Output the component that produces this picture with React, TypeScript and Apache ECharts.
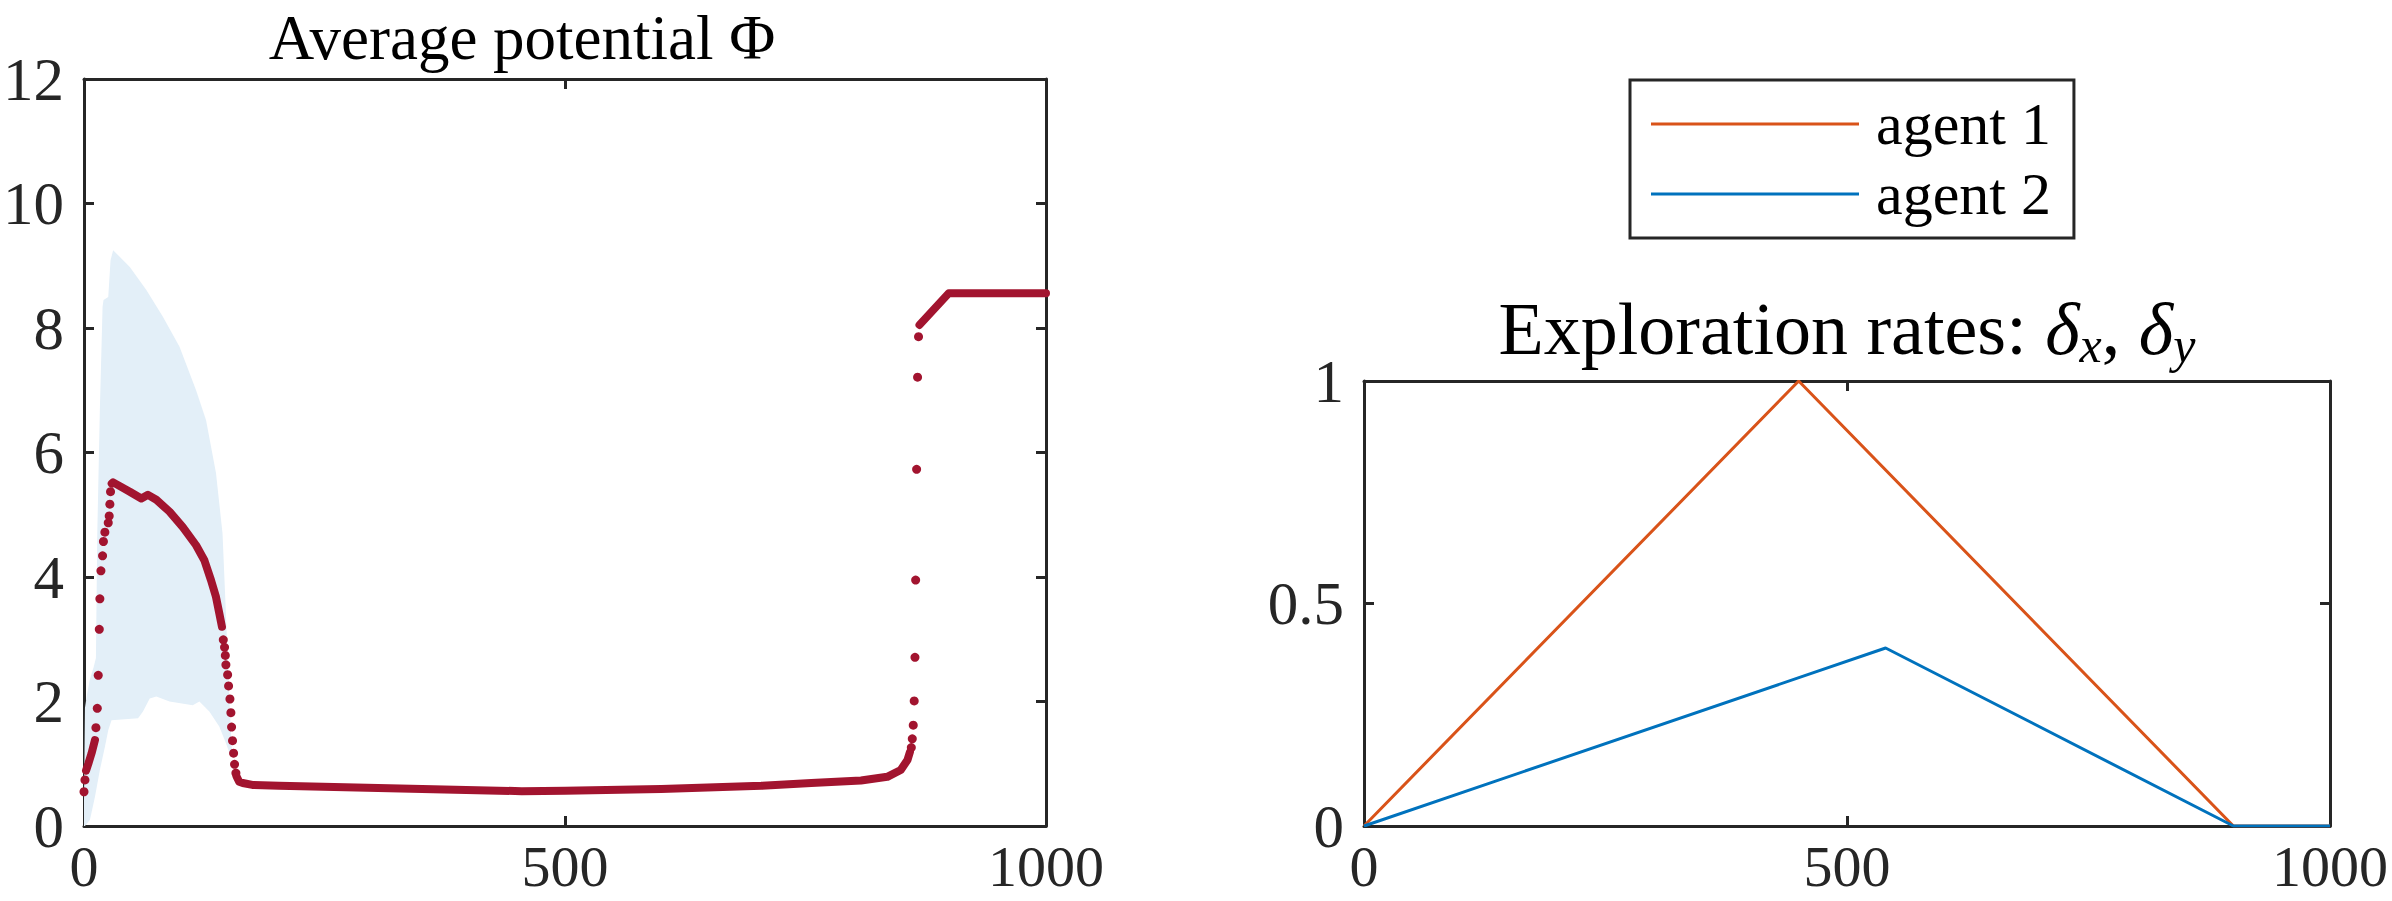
import React, { useEffect, useRef } from "react";
import * as echarts from "echarts";

// ---------- Left panel: average potential ----------
const xTicksLeft = [0, 500, 1000];
const yTicksLeft = [0, 2, 4, 6, 8, 10, 12];

// shaded band (upper / lower envelope)
const bandUpper: [number, number][] = [
  [0, 0.4], [1, 1.9], [3, 2.1], [6, 2.35], [10, 2.55], [12.4, 2.7], [13.8, 4.7],
  [16.5, 6.7], [19.3, 8.34], [20.3, 8.45], [25.2, 8.5], [27.6, 9.09], [30.3, 9.25],
  [47.6, 8.98], [64.8, 8.61], [82, 8.18], [99.3, 7.7], [116.5, 7.0], [126.9, 6.52],
  [137.2, 5.67], [144, 4.7], [147.5, 3.42], [151, 2.07], [154, 1.15],
];
const bandLower: [number, number][] = [
  [0, 0], [1, 0], [6.2, 0.1], [11.4, 0.47], [16.5, 0.9], [21.7, 1.27], [25.2, 1.54],
  [28.6, 1.7], [56.2, 1.73], [61.3, 1.84], [68.3, 2.05], [75.2, 2.08], [88.9, 2.0],
  [113, 1.94], [120, 2.0], [130.3, 1.84], [140.6, 1.6], [147.6, 1.33], [152.7, 1.11],
];

// dense parts of the potential curve (drawn as thick line pieces)
const potSegA: [number, number][] = [[2.1, 0.89], [4.5, 1.0], [7.9, 1.17], [11.4, 1.38]];
const potSegC: [number, number][] = [
  [28.8, 5.5], [30.3, 5.52], [47.6, 5.37], [59.6, 5.26], [66.5, 5.32], [75.2, 5.24],
  [88.9, 5.05], [102.7, 4.8], [116.5, 4.51], [125.1, 4.27], [132, 3.95], [137.2, 3.68],
  [140.6, 3.42], [143.4, 3.2],
];
const potSegD: [number, number][] = [
  [158.5, 0.8], [161.3, 0.71], [165, 0.69], [175, 0.66], [202.7, 0.645], [363, 0.59],
  [455, 0.56], [500, 0.565], [600, 0.595], [704, 0.645], [756, 0.69], [807.7, 0.73],
  [835, 0.79], [849, 0.9], [856, 1.06], [858.6, 1.19],
];
const potSegE: [number, number][] = [[868.5, 8.05], [899, 8.56], [1000, 8.56]];

// isolated points of the potential curve (fast transitions)
const potDots: [number, number][] = [
  [0, 0.55], [1, 0.74], [12.4, 1.58], [13.8, 1.89], [14.8, 2.42], [15.9, 3.16],
  [16.5, 3.65], [17.6, 4.1], [19.3, 4.34], [20.2, 4.57], [21.7, 4.72], [25.2, 4.87],
  [26.2, 4.98], [26.9, 5.17], [27.6, 5.37],
  [144.8, 2.99], [146.1, 2.87], [146.9, 2.74], [147.5, 2.59], [149.3, 2.43],
  [150.3, 2.25], [151.7, 2.04], [152.7, 1.82], [153.4, 1.59], [154.4, 1.37],
  [155.5, 1.17], [156.5, 0.99], [157.9, 0.85],
  [860, 1.26], [861, 1.4], [862, 1.62], [863, 2.01], [863.8, 2.71], [864.5, 3.95],
  [865.5, 5.73], [866.5, 7.21], [867.5, 7.86],
];

// ---------- Right panel: exploration rates ----------
const agent1X = [0, 450, 900, 1000];
const agent1Y = [0, 1, 0, 0];
const agent2X = [0, 540, 900, 1000];
const agent2Y = [0, 0.4, 0, 0];
const xTicksRight = [0, 500, 1000];
const yTicksRight = [0, 0.5, 1];

const FONT = '"Liberation Serif", "Times New Roman", serif';
const AX = "#262626";
const RED = "#A2142F";
const ORANGE = "#D95319";
const BLUE = "#0072BD";
const BAND = "#E3EFF8";

function joinSegments(...segs: [number, number][][]) {
  const out: any[] = [];
  segs.forEach((s, i) => {
    if (i > 0) out.push([null, null]);
    s.forEach((p) => out.push(p));
  });
  return out;
}

function boxAxes(gridIndex: number, kind: "x" | "y", ticks: number[]) {
  const common = {
    gridIndex,
    type: "value",
    min: ticks[0],
    max: ticks[ticks.length - 1],
    interval: ticks[1] - ticks[0],
    splitLine: { show: false },
    axisLine: { show: true, onZero: false, lineStyle: { color: AX, width: 3 } },
    axisTick: { show: true, inside: true, length: 10, lineStyle: { color: AX, width: 3 } },
  };
  const label = {
    show: true,
    fontSize: kind === "x" ? 58 : 61,
    fontFamily: FONT,
    color: AX,
    lineHeight: 44,
    margin: kind === "x" ? 18 : 20,
    formatter: (v: number) => String(v),
  };
  return [
    { ...common, position: kind === "x" ? "bottom" : "left", axisLabel: label },
    { ...common, position: kind === "x" ? "top" : "right", axisLabel: { show: false } },
  ];
}

export default function App() {
  const ref = useRef<HTMLDivElement>(null);
  useEffect(() => {
    if (!ref.current) return;
    const chart = echarts.init(ref.current, undefined, { renderer: "svg" });
    const option: any = {
      animation: false,
      backgroundColor: "#ffffff",
      title: [
        {
          text: "Average potential Φ",
          left: 522,
          top: 6,
          padding: 0,
          textAlign: "center",
          textStyle: { fontFamily: FONT, fontSize: 63, fontWeight: "normal", color: "#000" },
        },
        {
          text: "Exploration rates: {d|δ}{s|x}, {d|δ}{s|y}",
          left: 1847,
          top: 288,
          padding: 0,
          textAlign: "center",
          textStyle: {
            fontFamily: FONT,
            fontSize: 74,
            fontWeight: "normal",
            color: "#000",
            lineHeight: 82,
            rich: {
              d: { fontFamily: FONT, fontSize: 74, fontStyle: "italic", color: "#000", lineHeight: 82 },
              s: {
                fontFamily: FONT,
                fontSize: 50,
                fontStyle: "italic",
                color: "#000",
                lineHeight: 50,
                padding: [32, 0, 0, 0],
              },
            },
          },
        },
      ],
      legend: {
        left: 1630,
        top: 80,
        orient: "vertical",
        padding: [14, 23, 14, 21],
        itemGap: 10,
        itemWidth: 208,
        itemHeight: 3,
        borderColor: AX,
        borderWidth: 3,
        backgroundColor: "#fff",
        textStyle: { fontFamily: FONT, fontSize: 60, color: "#000", lineHeight: 60, padding: [0, 0, 0, 12] },
        data: [
          { name: "agent 1", icon: "rect" },
          { name: "agent 2", icon: "rect" },
        ],
      },
      grid: [
        { left: 79, top: 79, width: 967, height: 747, containLabel: false },
        { left: 1364, top: 381, width: 966, height: 445, containLabel: false },
      ],
      xAxis: [...boxAxes(0, "x", xTicksLeft), ...boxAxes(1, "x", xTicksRight)],
      yAxis: [...boxAxes(0, "y", yTicksLeft), ...boxAxes(1, "y", yTicksRight)],
      series: [
        {
          type: "custom",
          name: "band",
          xAxisIndex: 0,
          yAxisIndex: 0,
          z: 1,
          silent: true,
          data: bandUpper,
          encode: { x: 0, y: 1 },
          renderItem: (params: any, api: any) => {
            if (params.dataIndex !== 0) return null;
            const pts: number[][] = [];
            bandUpper.forEach((p) => pts.push(api.coord(p)));
            for (let i = bandLower.length - 1; i >= 0; i--) pts.push(api.coord(bandLower[i]));
            return { type: "polygon", shape: { points: pts }, style: { fill: BAND, stroke: null } };
          },
        },
        {
          type: "line",
          name: "potential",
          xAxisIndex: 0,
          yAxisIndex: 0,
          z: 3,
          showSymbol: false,
          symbol: "none",
          connectNulls: false,
          clip: false,
          lineStyle: { color: RED, width: 8, cap: "round", join: "round", opacity: 1 },
          data: joinSegments(potSegA, potSegC, potSegD, potSegE),
        },
        {
          type: "scatter",
          name: "potential dots",
          xAxisIndex: 0,
          yAxisIndex: 0,
          z: 3,
          clip: false,
          symbol: "circle",
          symbolSize: 9,
          itemStyle: { color: RED, opacity: 1 },
          data: potDots,
        },
        {
          type: "line",
          name: "agent 1",
          xAxisIndex: 2,
          yAxisIndex: 2,
          symbol: "none",
          color: ORANGE,
          lineStyle: { color: ORANGE, width: 3 },
          data: agent1X.map((x, i) => [x, agent1Y[i]]),
        },
        {
          type: "line",
          name: "agent 2",
          xAxisIndex: 2,
          yAxisIndex: 2,
          symbol: "none",
          color: BLUE,
          lineStyle: { color: BLUE, width: 3 },
          data: agent2X.map((x, i) => [x, agent2Y[i]]),
        },
      ],
    };
    chart.setOption(option);
    return () => chart.dispose();
  }, []);
  return (
    <div
      ref={ref}
      style={{ position: "absolute", left: 0, top: 0, width: 2392, height: 901, background: "#fff" }}
    />
  );
}
